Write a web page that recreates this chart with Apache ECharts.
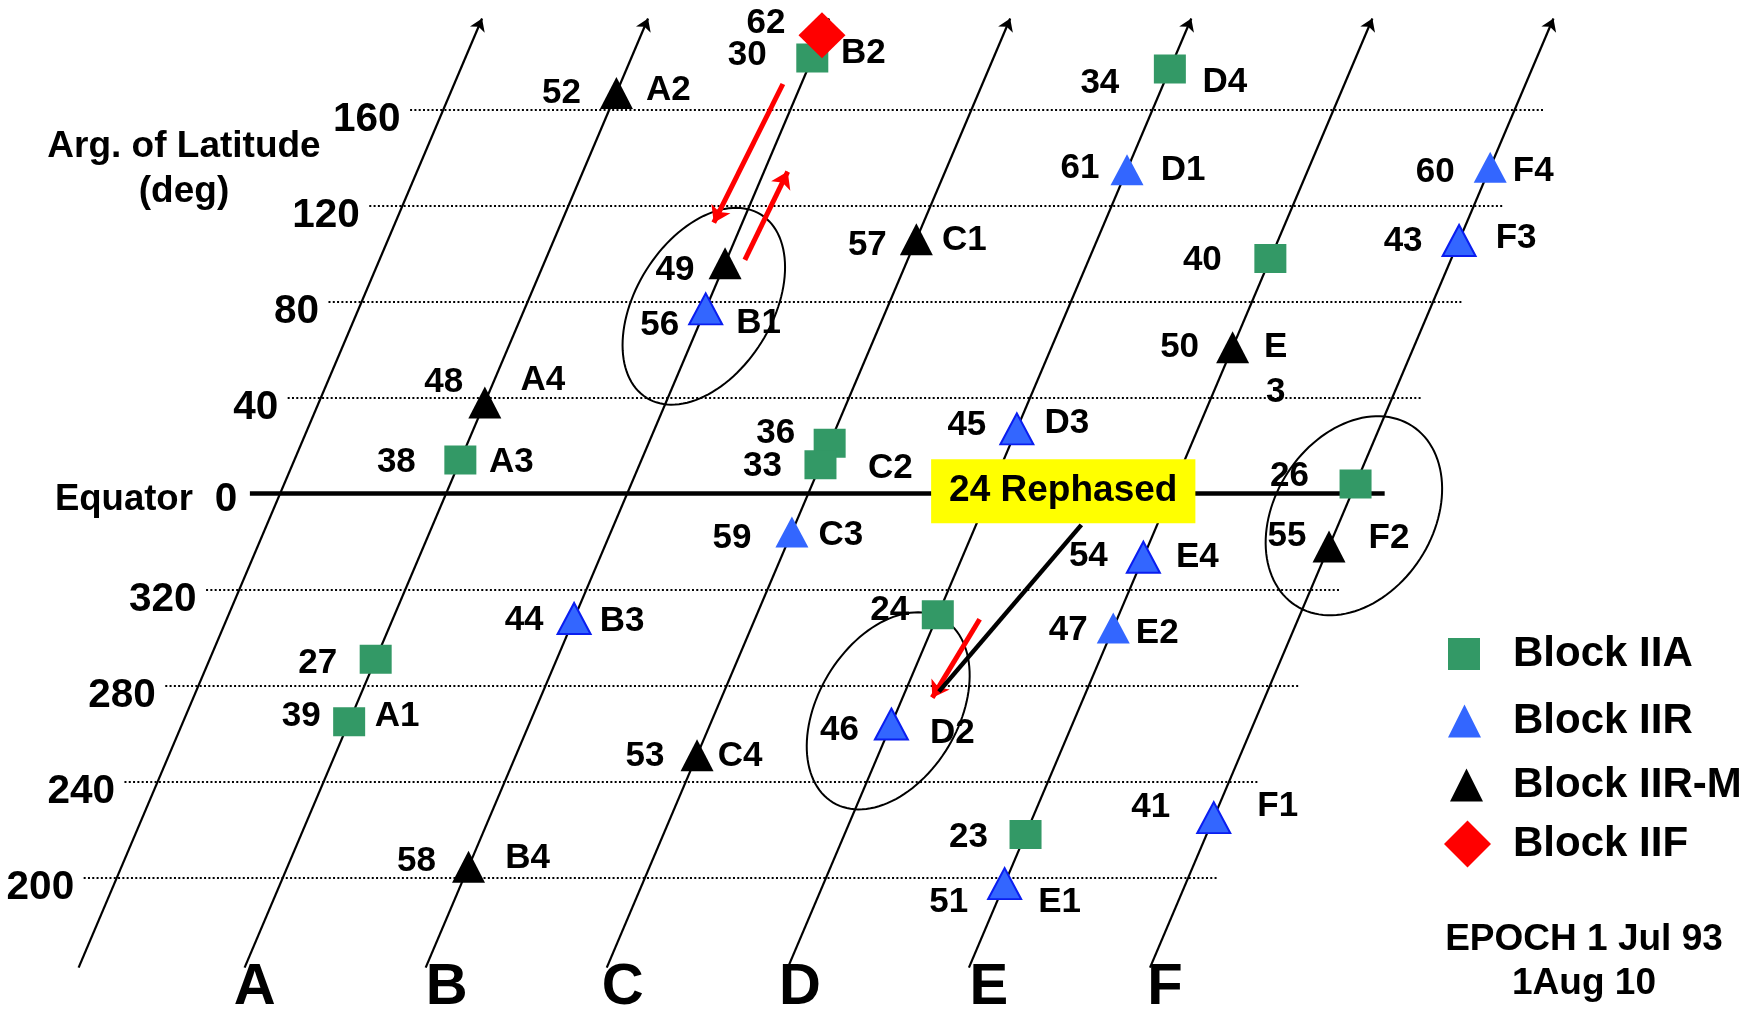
<!doctype html>
<html lang="en">
<head>
<meta charset="utf-8">
<title>GPS constellation - 24 slots rephased</title>
<script src="https://cdn.jsdelivr.net/npm/echarts@6/dist/echarts.min.js"></script>
<style>
  html, body { margin: 0; padding: 0; background: #fff; }
  #chart { width: 1758px; height: 1013px; }
</style>
</head>
<body>
<div id="chart"></div>
<script>
// ---- data ----
// orbital planes and their node spacing (deg); the bare line at far left is the wrap-round
var planes = ['A', 'B', 'C', 'D', 'E', 'F'];
var planeNode = [0, 60, 120, 180, 240, 300];
var wrapNode = -55;

// argument of latitude rows (deg), top to bottom
var latTicks = [160, 120, 80, 40, 0, 320, 280, 240, 200];

// satellites: PRN, plane, argument of latitude (deg), block, slot
var satPrn    = [52, 48, 38, 27, 39,   62, 30, 49, 56, 44, 58,   57, 36, 33, 59, 53,   34, 61, 45, 24, 46,   40, 50, 54, 47, 23, 51,   60, 43, 26, 55, 41];
var satPlane  = ['A', 'A', 'A', 'A', 'A',  'B', 'B', 'B', 'B', 'B', 'B',  'C', 'C', 'C', 'C', 'C',  'D', 'D', 'D', 'D', 'D',  'E', 'E', 'E', 'E', 'E', 'E',  'F', 'F', 'F', 'F', 'F'];
var satArgLat = [167, 38, 14, 291, 265,  191, 181.5, 96, 77, 308, 204.5,  106, 21, 12, 344, 251,  177, 135, 27, 309.5, 264,  98, 61, 333.5, 304, 218, 197.5,  136, 105.5, 4, 338, 225];
var satBlock  = ['IIR-M', 'IIR-M', 'IIA', 'IIA', 'IIA',  'IIF', 'IIA', 'IIR-M', 'IIR', 'IIR', 'IIR-M',  'IIR-M', 'IIA', 'IIA', 'IIR', 'IIR-M',
                 'IIA', 'IIR', 'IIR', 'IIA', 'IIR',  'IIA', 'IIR-M', 'IIR', 'IIR', 'IIA', 'IIR',  'IIR', 'IIR', 'IIA', 'IIR-M', 'IIR'];
var satSlot   = ['A2', 'A4', 'A3', '', 'A1',  '', 'B2', '', 'B1', 'B3', 'B4',  'C1', '', 'C2', 'C3', 'C4',  'D4', 'D1', 'D3', '', 'D2',
                 '', 'E\n3', 'E4', 'E2', '', 'E1',  'F4', 'F3', '', 'F2', 'F1'];

// annotations (node deg, lat deg)
var rings = [[85.4, 78.1], [146.5, -90.5], [300.8, -9.2]];
var redArrows = [
  [[111.6, 170.7], [88.7, 112.9]],
  [[99.0, 97.4], [113.2, 134.2]],
  [[176.8, -52.3], [161.1, -85.0]]
];
var rephaseLink = [[210.5, -13.0], [163.3, -82.5]];
var rephaseNote = ['24 Rephased', 204.5, 1.0];

// ---- drawing layout ----
var FONT = '"Liberation Sans", Arial, sans-serif';
var SKEW = 0.338;            // sideways drift of a plane line per deg of latitude
var LINE_LAT = [-197.5, 198];
var GRID_U = [-66, 309.5];
var EQ_U = [-65, 311];
var letterNudge = [10, 21, 16, 12, 20, 15];

// [number dx, dy, slot dx, dy] in px around each marker
var labelNudge = {
  52: [-55, 0, 52, -3], 48: [-41, -20, 58, -22], 38: [-64, 2, 51, 2], 27: [-58, 4], 39: [-48, -5, 48, -5],
  62: [-56, -12], 30: [-65, -3, 51, -5], 49: [-50, 7], 56: [-46, 16, 53, 14], 44: [-50, 2, 48, 3], 58: [-52, -6, 59, -9],
  57: [-49, 6, 48, 1], 36: [-54, -10], 33: [-58, 1, 70, 3], 59: [-60, 6, 49, 3], 53: [-52, 1, 43, 1],
  34: [-70, 14, 55, 13], 61: [-47, -1, 56, 1], 45: [-50, -4, 50, -6], 24: [-48, -5], 46: [-52, 6, 61, 9],
  40: [-68, 2], 50: [-53, 0, 43, 23], 54: [-55, -1, 54, 0], 47: [-45, 2, 44, 5], 23: [-57, 3], 51: [-56, 19, 55, 19],
  60: [-55, 5, 43, 4], 43: [-56, 1, 57, -2], 26: [-66, -8], 55: [-42, -10, 60, -8], 41: [-63, -10, 64, -11]
};
var outlined = [56, 44, 45, 54, 46, 51, 43, 41];
var ringSize = [[108, 68, 32], [107, 70, 31], [107, 79, 33]];   // semi axes px, tilt deg

var blockStyle = {
  'IIA':   { name: 'Block IIA',   symbol: 'rect',     size: [32, 29], color: '#339966', legend: [1448, 654, 32, 32] },
  'IIR':   { name: 'Block IIR',   symbol: 'triangle', size: [33, 31], color: '#3366ff', legend: [1448, 721, 33, 33] },
  'IIR-M': { name: 'Block IIR-M', symbol: 'triangle', size: [33, 32], color: '#000000', legend: [1450, 785, 33, 33] },
  'IIF':   { name: 'Block IIF',   symbol: 'diamond',  size: [47, 46], color: '#ff0000', legend: [1444, 844, 47, 47] }
};

function unwrap(a) { return a > 195 ? a - 360 : a; }
function onPlane(node, lat) { return [node + SKEW * lat, lat]; }
function nodeOf(p) { return planeNode[planes.indexOf(p)]; }

function satItems(block) {
  var out = [];
  for (var i = 0; i < satPrn.length; i++) {
    if (satBlock[i] !== block) continue;
    var n = labelNudge[satPrn[i]];
    var item = {
      name: String(satPrn[i]),
      value: onPlane(nodeOf(satPlane[i]), unwrap(satArgLat[i])),
      label: { offset: [n[0], n[1]] }
    };
    if (outlined.indexOf(satPrn[i]) >= 0) item.itemStyle = { borderColor: '#0a1ef0', borderWidth: 2 };
    out.push(item);
  }
  return out;
}

var slotItems = [];
for (var i = 0; i < satPrn.length; i++) {
  if (!satSlot[i]) continue;
  var n = labelNudge[satPrn[i]];
  slotItems.push({
    name: satSlot[i],
    value: onPlane(nodeOf(satPlane[i]), unwrap(satArgLat[i])),
    label: { offset: [n[2], n[3]] }
  });
}

var labelBase = { show: true, color: '#000', opacity: 1, fontFamily: FONT, fontWeight: 'bold', textBorderWidth: 0 };
function lab(extra) { return Object.assign({}, labelBase, extra); }

// scatter defaults to 0.8 opacity, which also fades the labels
var hidden = { color: 'rgba(0,0,0,0)', opacity: 1 };
var series = [
  {
    type: 'lines', coordinateSystem: 'cartesian2d', silent: true,
    lineStyle: { color: '#000', width: 2, type: [2, 2.3], opacity: 1 },
    data: latTicks.filter(function (t) { return t !== 0; }).map(function (t) {
      var l = unwrap(t);
      return { coords: [[GRID_U[0] + SKEW * l, l], [GRID_U[1] + SKEW * l, l]] };
    })
  },
  {
    type: 'lines', coordinateSystem: 'cartesian2d', silent: true,
    lineStyle: { color: '#000', width: 4.5, opacity: 1 },
    data: [{ coords: [[EQ_U[0], 0], [EQ_U[1], 0]] }]
  },
  {
    type: 'lines', coordinateSystem: 'cartesian2d', silent: true,
    symbol: ['none', 'arrow'], symbolSize: 12,
    lineStyle: { color: '#000', width: 2.2, opacity: 1 },
    data: [wrapNode].concat(planeNode).map(function (nd) {
      return { coords: [onPlane(nd, LINE_LAT[0]), onPlane(nd, LINE_LAT[1])] };
    })
  },
  {
    type: 'custom', silent: true,
    encode: { x: 0, y: 1 },
    data: rings,
    renderItem: function (params, api) {
      var c = api.coord([api.value(0), api.value(1)]);
      var s = ringSize[params.dataIndex];
      var phi = s[2] * Math.PI / 180;
      var pts = [];
      for (var k = 0; k < 120; k++) {
        var t = k / 120 * 2 * Math.PI;
        var ca = s[0] * Math.cos(t), sb = s[1] * Math.sin(t);
        pts.push([c[0] + ca * Math.sin(phi) + sb * Math.cos(phi), c[1] - ca * Math.cos(phi) + sb * Math.sin(phi)]);
      }
      return { type: 'polygon', shape: { points: pts }, style: { fill: 'none', stroke: '#000', lineWidth: 2 } };
    }
  },
  {
    type: 'lines', coordinateSystem: 'cartesian2d', silent: true,
    symbol: ['none', 'arrow'], symbolSize: 16,
    lineStyle: { color: '#ff0000', width: 5, opacity: 1 },
    data: redArrows.map(function (a) { return { coords: a }; })
  },
  {
    type: 'lines', coordinateSystem: 'cartesian2d', silent: true,
    lineStyle: { color: '#000', width: 4.5, opacity: 1 },
    data: [{ coords: rephaseLink }]
  }
];

['IIA', 'IIR', 'IIR-M', 'IIF'].forEach(function (b) {
  var st = blockStyle[b];
  series.push({
    type: 'scatter', name: st.name, silent: true,
    symbol: st.symbol, symbolSize: st.size,
    itemStyle: { color: st.color, opacity: 1 },
    label: lab({ position: 'inside', formatter: '{b}', fontSize: 35 }),
    data: satItems(b)
  });
});

series.push({
  type: 'scatter', silent: true, symbolSize: 1, itemStyle: hidden,
  label: lab({ position: 'inside', formatter: '{b}', fontSize: 35, lineHeight: 45 }),
  data: slotItems
});

series.push({
  type: 'scatter', silent: true, symbolSize: 1, itemStyle: hidden,
  label: lab({
    position: 'left', distance: 9, offset: [0, 10],
    formatter: function (p) { return p.name === '0' ? '{eq|Equator}{n|0}' : '{n|' + p.name + '}'; },
    rich: {
      eq: { fontSize: 36.5, fontWeight: 'bold', fontFamily: FONT, color: '#000', padding: [0, 22, 0, 0] },
      n: { fontSize: 40.5, fontWeight: 'bold', fontFamily: FONT, color: '#000' }
    }
  }),
  data: latTicks.map(function (t) {
    var l = unwrap(t);
    return { name: String(t), value: [GRID_U[0] + SKEW * l, l], label: t === 0 ? { offset: [0, 6] } : undefined };
  })
});

series.push({
  type: 'scatter', silent: true, symbolSize: 1, itemStyle: hidden,
  label: lab({ position: 'inside', formatter: '{b}', fontSize: 58 }),
  data: planes.map(function (p, k) {
    return { name: p, value: onPlane(planeNode[k], LINE_LAT[0]), label: { offset: [letterNudge[k], 20] } };
  })
});

series.push({
  type: 'scatter', silent: true, symbolSize: 1, itemStyle: hidden, z: 10,
  label: lab({ position: 'inside', formatter: '{b}', fontSize: 37, lineHeight: 40,
    backgroundColor: '#ffff00', padding: [12, 18] }),
  data: [{ name: rephaseNote[0], value: [rephaseNote[1], rephaseNote[2]] }]
});

var legends = ['IIA', 'IIR', 'IIR-M', 'IIF'].map(function (b) {
  var st = blockStyle[b], L = st.legend, FS = 42;
  return {
    left: L[0], top: L[1] - Math.max(L[3], FS) / 2, padding: 0,
    itemWidth: L[2], itemHeight: L[3], selectedMode: false,
    data: [{ name: st.name, icon: st.symbol }],
    textStyle: { fontSize: FS, fontWeight: 'bold', fontFamily: FONT, color: '#000',
      padding: [0, 0, 0, 1513 - L[0] - L[2] - 5] }
  };
});

var chart = echarts.init(document.getElementById('chart'));
chart.setOption({
  animation: false,
  backgroundColor: '#fff',
  textStyle: { fontFamily: FONT },
  grid: { left: 0, right: 0, top: 0, bottom: 0 },
  xAxis: { type: 'value', min: -147.8, max: 434.7, show: false },
  yAxis: { type: 'value', min: -216.4, max: 205.7, show: false },
  legend: legends,
  graphic: [
    { type: 'text', x: 184, y: 169, silent: true,
      style: { text: 'Arg. of Latitude\n(deg)', font: 'bold 37px ' + FONT, align: 'center', verticalAlign: 'middle', lineHeight: 45, fill: '#000' } },
    { type: 'text', x: 1584, y: 962, silent: true,
      style: { text: 'EPOCH 1 Jul 93\n1Aug 10', font: 'bold 37px ' + FONT, align: 'center', verticalAlign: 'middle', lineHeight: 44, fill: '#000' } }
  ],
  series: series
});
</script>
</body>
</html>
